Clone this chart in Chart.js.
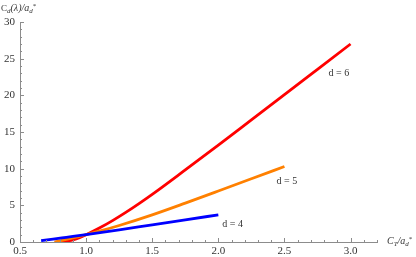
<!DOCTYPE html>
<html>
<head>
<meta charset="utf-8">
<script src="https://cdn.jsdelivr.net/npm/chart.js@4"></script>
<style>
  html, body { margin: 0; padding: 0; background: #fff; }
  #wrap { width: 416px; height: 257px; }
</style>
</head>
<body>
<div id="wrap"><canvas id="chart" width="416" height="257"></canvas></div>
<script>
// data ----------------------------------------------------------
const d4X = [0.66, 0.75, 0.85, 1.0, 1.25, 1.5, 1.75, 2.0];
const d4Y = [0.18, 0.4, 0.64, 1.0, 1.66, 2.35, 3.03, 3.7];

const d5X = [0.76, 0.8, 0.85, 0.9, 0.95, 1.0, 1.1, 1.25, 1.5, 1.75, 2.0, 2.25, 2.5];
const d5Y = [0.0, 0.15, 0.35, 0.56, 0.78, 1.0, 1.47, 2.25, 3.7, 5.3, 6.95, 8.62, 10.3];

const d6X = [0.81, 0.85, 0.9, 0.95, 1.0, 1.1, 1.2, 1.3, 1.4, 1.5, 1.75, 2.0, 2.25, 2.5, 2.75, 3.0];
const d6Y = [0.0, 0.1, 0.3, 0.6, 1.0, 1.9, 2.92, 4.04, 5.24, 6.5, 9.83, 13.2, 16.65, 20.1, 23.55, 27.0];

const xTicks = [0.5, 1.0, 1.5, 2.0, 2.5, 3.0];
const yTicks = [0, 5, 10, 15, 20, 25, 30];
const curveLabels = ["d = 4", "d = 5", "d = 6"];

// helpers -------------------------------------------------------
const pts = (xs, ys) => xs.map((x, i) => ({ x: x, y: ys[i] }));
const AXIS = "#8c8c8c";
const TEXT = "#333";
const SERIF = "'Liberation Serif', 'DejaVu Serif', serif";

// minor/major ticks pointing inward, Mathematica style
const tickPlugin = {
  id: "ticks",
  afterDraw(chart) {
    const ctx = chart.ctx;
    const xs = chart.scales.x, ys = chart.scales.y;
    const x0 = xs.left, y0 = ys.bottom;
    ctx.save();
    ctx.strokeStyle = AXIS;
    ctx.lineWidth = 1;
    ctx.beginPath();
    for (let i = 5; i <= 32; i++) {
      const v = i / 10;
      const px = Math.round(xs.getPixelForValue(v)) + 0.5;
      const len = (i % 5 === 0) ? 4 : 2;
      ctx.moveTo(px, y0);
      ctx.lineTo(px, y0 - len);
    }
    for (let v = 0; v <= 30; v++) {
      const py = Math.round(ys.getPixelForValue(v)) + 0.5;
      const len = (v % 5 === 0) ? 4 : 2;
      ctx.moveTo(x0, py);
      ctx.lineTo(x0 + len, py);
    }
    ctx.stroke();
    ctx.restore();
  }
};

// draw a run of [text, style, shift, size] pieces
function richText(ctx, x, y, parts) {
  let cx = x;
  for (const [t, style, shift, size] of parts) {
    ctx.font = `${style} ${size}px ${SERIF}`;
    ctx.fillText(t, cx, y + shift);
    cx += ctx.measureText(t).width;
  }
}

const labelPlugin = {
  id: "labels",
  afterDraw(chart) {
    const ctx = chart.ctx;
    const xs = chart.scales.x, ys = chart.scales.y;
    ctx.save();
    ctx.fillStyle = TEXT;
    ctx.textBaseline = "alphabetic";
    ctx.textAlign = "left";

    // axis titles
    richText(ctx, 1, 11, [
      ["C", "normal", 0, 9], ["d", "italic", 2, 7], ["(λ)/", "italic", 0, 10],
      ["a", "italic", 0, 10], ["d", "italic", 2, 7], ["*", "normal", -3, 7]
    ]);
    richText(ctx, 387, 244, [
      ["C", "italic", 0, 10], ["T", "italic", 2, 7], ["/", "italic", 0, 10],
      ["a", "italic", 0, 10], ["d", "italic", 2, 7], ["*", "normal", -3, 7]
    ]);

    // curve labels
    ctx.font = `10px ${SERIF}`;
    const spots = [[2.03, 2.1], [2.44, 7.9], [2.834, 22.6]];
    curveLabels.forEach((t, i) => {
      ctx.fillText(t, xs.getPixelForValue(spots[i][0]), ys.getPixelForValue(spots[i][1]));
    });
    ctx.restore();
  }
};

new Chart(document.getElementById("chart"), {
  type: "line",
  data: {
    datasets: [
      { label: curveLabels[0], data: pts(d4X, d4Y), borderColor: "#0000ff" },
      { label: curveLabels[1], data: pts(d5X, d5Y), borderColor: "#ff8000" },
      { label: curveLabels[2], data: pts(d6X, d6Y), borderColor: "#ff0000" }
    ].map(ds => Object.assign(ds, {
      borderWidth: 2.8, pointRadius: 0, fill: false,
      cubicInterpolationMode: "monotone"
    }))
  },
  options: {
    responsive: false,
    animation: false,
    layout: { padding: { top: 22, right: 39, left: 0, bottom: 0 } },
    plugins: { legend: { display: false }, tooltip: { enabled: false } },
    scales: {
      x: {
        type: "linear", min: 0.5, max: 3.2,
        grid: { display: false, drawTicks: false },
        border: { display: true, color: AXIS, width: 1 },
        afterBuildTicks: s => { s.ticks = xTicks.map(v => ({ value: v })); },
        afterFit: s => { s.height = 15; },
        ticks: {
          padding: 3, color: TEXT, maxRotation: 0,
          font: { family: SERIF, size: 11 },
          callback: v => v.toFixed(1)
        }
      },
      y: {
        type: "linear", min: 0, max: 30,
        grid: { display: false, drawTicks: false },
        border: { display: true, color: AXIS, width: 1 },
        afterBuildTicks: s => { s.ticks = yTicks.map(v => ({ value: v })); },
        afterFit: s => { s.width = 20; },
        ticks: {
          padding: 5, color: TEXT,
          font: { family: SERIF, size: 11 }
        }
      }
    }
  },
  plugins: [tickPlugin, labelPlugin]
});
</script>
</body>
</html>
